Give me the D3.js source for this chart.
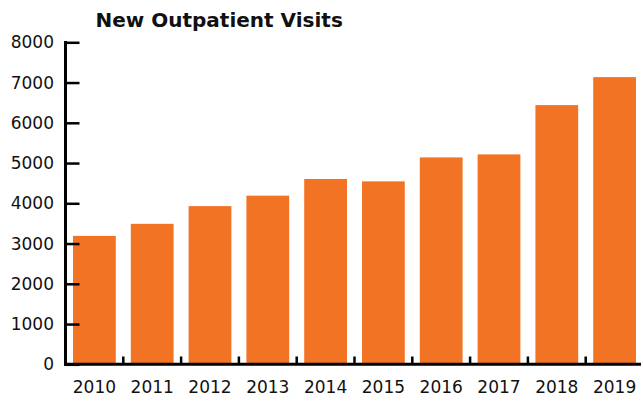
<!DOCTYPE html>
<html lang="en">
	<head>
		<meta charset="utf-8">
		<title>New Outpatient Visits</title>
		<script src="https://d3js.org/d3.v7.min.js"></script>
		<style>
			body { margin: 0; background: #fff; }
			text { font-family: "DejaVu Sans", sans-serif; fill: #111; }
		</style>
	</head>
	<body>
		<script>

			// data
			var years = ["2010", "2011", "2012", "2013", "2014", "2015", "2016", "2017", "2018", "2019"];
			var visits = [3190, 3490, 3930, 4190, 4605, 4545, 5140, 5215, 6440, 7135];
			var yTicks = [0, 1000, 2000, 3000, 4000, 5000, 6000, 7000, 8000];

			var w = 641;
			var h = 399;

			var svg = d3.select("body")
						.append("svg")
						.attr("width", w)
						.attr("height", h);

			var x = d3.scaleBand()
					  .domain(years)
					  .range([65.5, 643.5])
					  .paddingInner(0.26)
					  .paddingOuter(0.13);

			var y = d3.scaleLinear()
					  .domain([0, 8000])
					  .range([364.3, 42.3]);

			// bars
			svg.selectAll("rect")
			   .data(visits)
			   .enter()
			   .append("rect")
			   .attr("x", function(d, i) { return x(years[i]); })
			   .attr("y", function(d) { return y(d); })
			   .attr("width", x.bandwidth())
			   .attr("height", function(d) { return y(0) - y(d); })
			   .style("fill", "#F37324");

			// y axis, ticks pointing into the plot
			var yAxis = svg.append("g")
				.attr("transform", "translate(65.5,0)")
				.call(d3.axisRight(y).tickValues(yTicks).tickSize(14).tickFormat(""));
			yAxis.select(".domain").remove();
			yAxis.selectAll("line").attr("stroke", "#000").attr("stroke-width", 2.5);

			svg.append("line")
			   .attr("x1", 65.5).attr("x2", 65.5)
			   .attr("y1", 41).attr("y2", 365.8)
			   .attr("stroke", "#000").attr("stroke-width", 3);

			svg.selectAll(".ylab")
			   .data(yTicks)
			   .enter()
			   .append("text")
			   .attr("class", "ylab")
			   .attr("x", 54)
			   .attr("y", function(d) { return y(d); })
			   .attr("dy", "0.36em")
			   .attr("text-anchor", "end")
			   .style("font-size", "17px")
			   .text(function(d) { return d; });

			// x axis: baseline plus ticks between the bars
			svg.append("line")
			   .attr("x1", 64).attr("x2", w)
			   .attr("y1", 364.3).attr("y2", 364.3)
			   .attr("stroke", "#000").attr("stroke-width", 3);

			svg.selectAll(".xtick")
			   .data(years.slice(1))
			   .enter()
			   .append("line")
			   .attr("class", "xtick")
			   .attr("x1", function(d) { return x(d) - x.step() * x.paddingInner() / 2; })
			   .attr("x2", function(d) { return x(d) - x.step() * x.paddingInner() / 2; })
			   .attr("y1", 364.3).attr("y2", 356.5)
			   .attr("stroke", "#000").attr("stroke-width", 2.5);

			svg.selectAll(".xlab")
			   .data(years)
			   .enter()
			   .append("text")
			   .attr("class", "xlab")
			   .attr("x", function(d) { return x(d) + x.bandwidth() / 2; })
			   .attr("y", 393)
			   .attr("text-anchor", "middle")
			   .style("font-size", "17px")
			   .text(function(d) { return d; });

			// title
			svg.append("text")
			   .attr("x", 95.5)
			   .attr("y", 27)
			   .style("font-size", "20px")
			   .style("font-weight", "bold")
			   .text("New Outpatient Visits");

		</script>
	</body>
</html>
